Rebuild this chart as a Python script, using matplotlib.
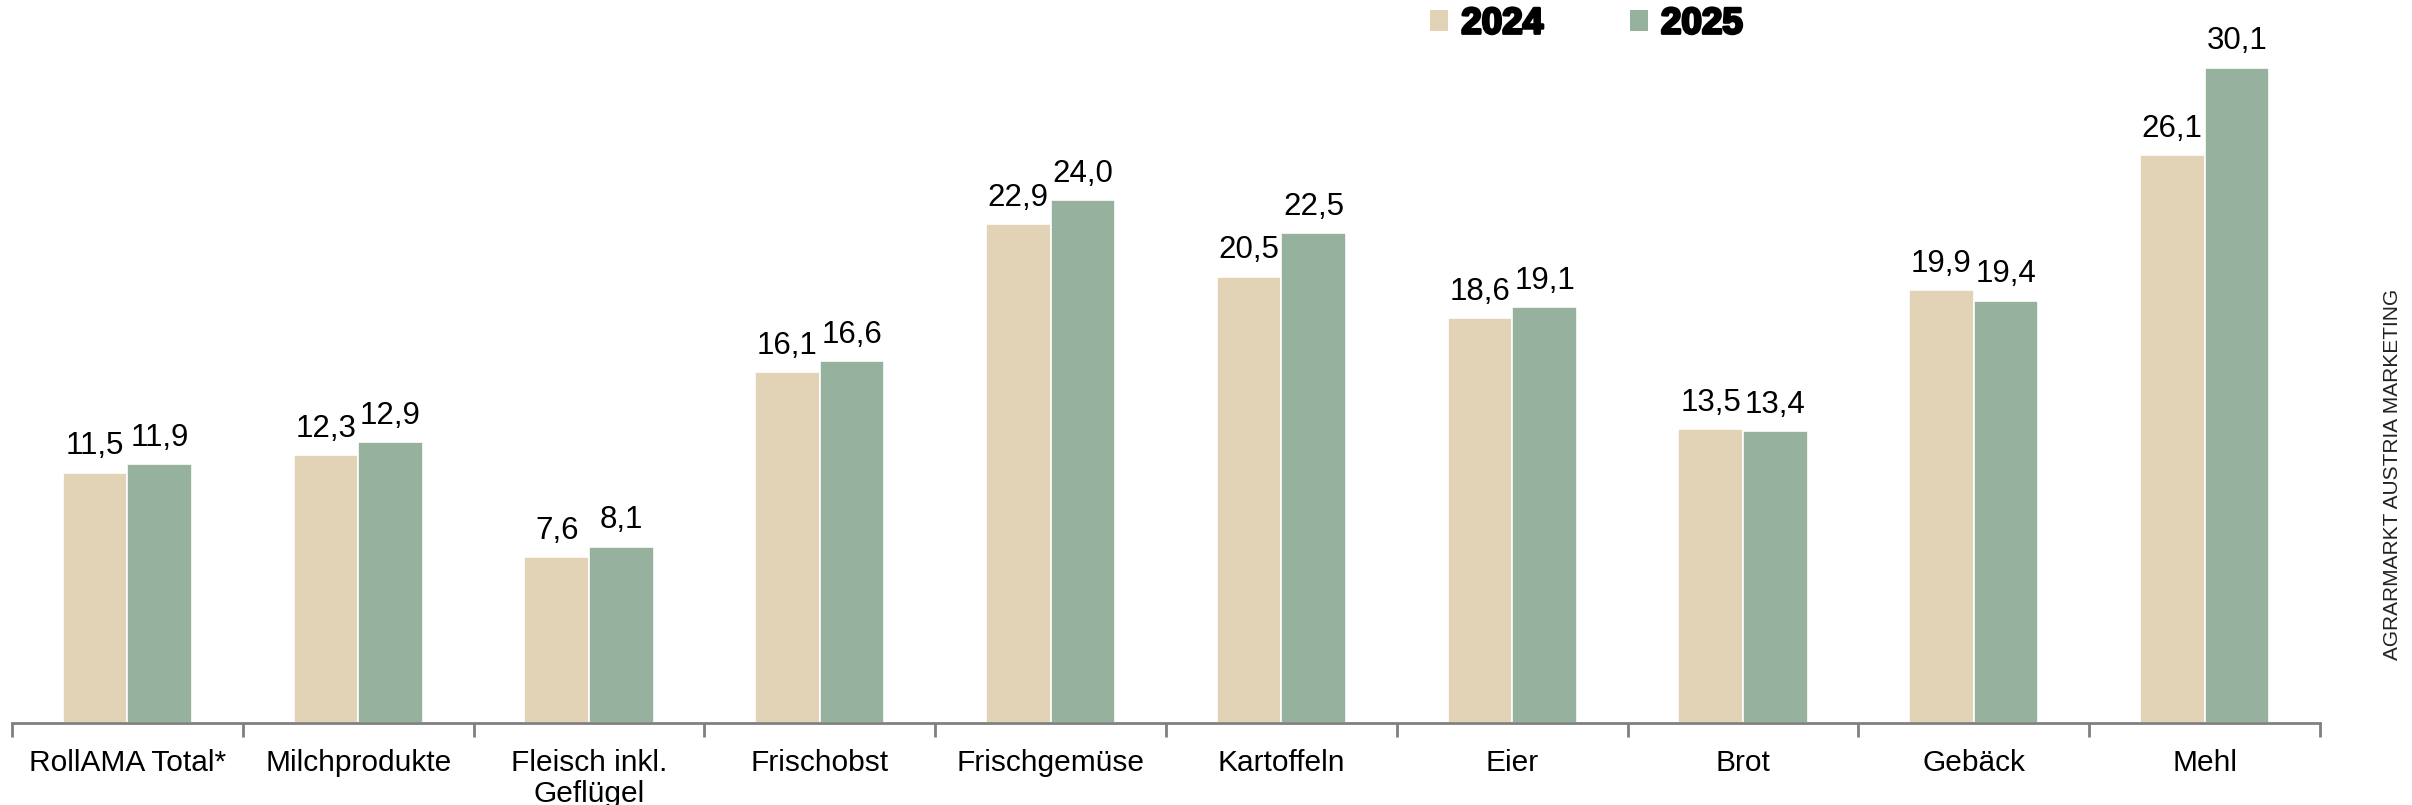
import matplotlib.pyplot as plt
import matplotlib.patheffects as pe
import numpy as np
from matplotlib.patches import Patch

categories = ["RollAMA Total*", "Milchprodukte", "Fleisch inkl.\nGeflügel", "Frischobst",
              "Frischgemüse", "Kartoffeln", "Eier", "Brot", "Gebäck", "Mehl"]
v2024 = [11.5, 12.3, 7.6, 16.1, 22.9, 20.5, 18.6, 13.5, 19.9, 26.1]
v2025 = [11.9, 12.9, 8.1, 16.6, 24.0, 22.5, 19.1, 13.4, 19.4, 30.1]
years = ["2024", "2025"]
colors = ["#E2D3B7", "#97B19F"]

plt.rcParams["font.family"] = ["Liberation Sans", "DejaVu Sans"]

W, H = 2412, 805
fig = plt.figure(figsize=(W / 100, H / 100), dpi=100)
ax = fig.add_axes([12 / W, 82 / H, (2320 - 12) / W, 723 / H])

x = np.arange(len(categories))
bw = 0.28
for vals, off, c in [(v2024, -bw / 2, colors[0]), (v2025, bw / 2, colors[1])]:
    bars = ax.bar(x + off, vals, bw, color=c, edgecolor="white", linewidth=1.2)
    ax.bar_label(bars, labels=[f"{v:.1f}".replace(".", ",") for v in vals],
                 padding=8, fontsize=22.5)

ax.set_xlim(-0.5, len(categories) - 0.5)
ax.set_ylim(0, 33.2)
for s in ["top", "right", "left"]:
    ax.spines[s].set_visible(False)
ax.spines["bottom"].set_color("#808080")
ax.spines["bottom"].set_linewidth(2)
ax.set_yticks([])

ax.set_xticks(x)
ax.set_xticklabels(categories, fontsize=21.5, linespacing=1.1)
ax.tick_params(axis="x", which="major", length=0, pad=19)
ax.set_xticks(np.arange(-0.5, len(categories), 1), minor=True)
ax.tick_params(axis="x", which="minor", length=10, width=2, color="#808080")

handles = [Patch(facecolor=c, edgecolor="none") for c in colors]
leg = fig.legend(handles, years, loc="center left",
                 bbox_to_anchor=(1430 / W, 1 - 24 / H), ncol=2, frameon=False,
                 prop={"weight": "bold", "size": 26.5},
                 handlelength=0.5, handleheight=0.5, handletextpad=0.35,
                 columnspacing=2.35, borderpad=0, borderaxespad=0)
for t in leg.get_texts():
    t.set_path_effects([pe.withStroke(linewidth=2, foreground="black")])

fig.text(2392 / W, 1 - 474 / H, "AGRARMARKT AUSTRIA MARKETING", rotation=90,
         ha="center", va="center", fontsize=15, color="#222222")

fig.savefig("out.png", dpi=100)
